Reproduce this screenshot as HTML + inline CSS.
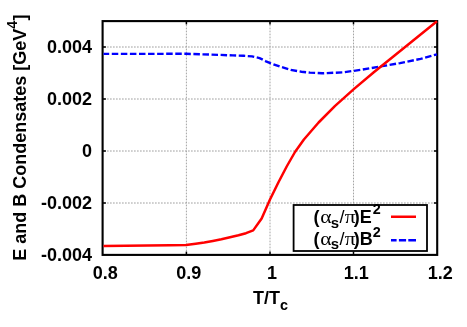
<!DOCTYPE html>
<html><head><meta charset="utf-8">
<style>
html,body{margin:0;padding:0;background:#fff;}
body{width:467px;height:327px;overflow:hidden;}
svg{display:block;will-change:transform;opacity:0.999;}
text{font-family:"Liberation Sans",sans-serif;fill:#000;}
.b{font-weight:bold;}
.sy{font-family:"Liberation Serif",serif;font-weight:normal;}
</style></head><body>
<svg width="467" height="327" viewBox="0 0 467 327">
<rect width="467" height="327" fill="#fff"/>
<!-- grid -->
<g stroke="#a0a0a0" stroke-width="1" stroke-dasharray="1.7 1.3" fill="none">
<line x1="104" y1="47" x2="436" y2="47"/>
<line x1="104" y1="99" x2="436" y2="99"/>
<line x1="104" y1="151" x2="436" y2="151"/>
<line x1="104" y1="203" x2="436" y2="203"/>
</g>
<g stroke="#a4a4a4" stroke-width="1" stroke-dasharray="1.7 1.3" stroke-dashoffset="0.4" fill="none">
<line x1="186.4" y1="22" x2="186.4" y2="254"/>
<line x1="270" y1="22" x2="270" y2="254"/>
<line x1="353.5" y1="22" x2="353.5" y2="254"/>
</g>
<!-- ticks -->
<g stroke="#000" stroke-width="1.5" fill="none">
<line x1="102.6" y1="47" x2="105.9" y2="47"/><line x1="433.9" y1="47" x2="437.2" y2="47"/>
<line x1="102.6" y1="99" x2="105.9" y2="99"/><line x1="433.9" y1="99" x2="437.2" y2="99"/>
<line x1="102.6" y1="151" x2="105.9" y2="151"/><line x1="433.9" y1="151" x2="437.2" y2="151"/>
<line x1="102.6" y1="203" x2="105.9" y2="203"/><line x1="433.9" y1="203" x2="437.2" y2="203"/>
<line x1="186.4" y1="251.6" x2="186.4" y2="254.9"/><line x1="186.4" y1="21.1" x2="186.4" y2="24.4"/>
<line x1="270" y1="251.6" x2="270" y2="254.9"/><line x1="270" y1="21.1" x2="270" y2="24.4"/>
<line x1="353.5" y1="251.6" x2="353.5" y2="254.9"/><line x1="353.5" y1="21.1" x2="353.5" y2="24.4"/>
</g>
<!-- frame -->
<rect x="102.6" y="21.1" width="334.6" height="233.8" fill="none" stroke="#000" stroke-width="2.1"/>
<!-- curves -->
<path id="blue" fill="none" stroke="#0000ff" stroke-width="2.4" stroke-dasharray="6.5 2.57" stroke-dashoffset="0.8" d="M103.5,53.90 L186,53.80 L220,54.90 L232.8,55.40 L243.6,55.80 L252.1,56.40 L259.6,58.10 L266,61.30 L270.3,63.20 L280,66.60 L290.7,69.90 L301.4,71.70 L310,72.60 L322,73.30 L342.7,72.40 L361,69.80 L379,66.70 L400,63.10 L420.6,58.90 L437,54.30"/>
<path id="red" fill="none" stroke="#ff0000" stroke-width="2.5" stroke-linejoin="round" d="M103.5,245.9 L170,245.3 L186,245 L195.7,243.7 L204.3,242.4 L212.8,240.9 L221.4,239.2 L230,237.3 L238.5,235.3 L246,233.2 L253.2,230.4 L261.65,218.5 L270,199.5 L278.35,182.5 L286.7,166.5 L295,152 L303.9,139.5 L318.6,122.5 L335.1,105.9 L353.5,89.4 L373.8,72.3 L394.6,55.5 L407.6,45.1 L437,21.2"/>
<!-- legend -->
<rect x="293.6" y="205" width="133.4" height="46" fill="#fff" stroke="#000" stroke-width="1.8"/>
<g font-size="18">
<text y="223" class="b"><tspan x="313.6">(</tspan><tspan x="330.7" dy="4.5" font-size="15">s</tspan><tspan x="339.5" dy="-4.5" font-weight="normal">/</tspan><tspan x="353.7">)</tspan><tspan x="359.8">E</tspan><tspan x="372.7" dy="-8.9" font-size="14.4">2</tspan></text>
<text class="sy" transform="translate(320.2,223) scale(1.2,1)">α</text>
<text class="sy" transform="translate(344.8,223) scale(1.2,1)">π</text>
<text y="244.6" class="b"><tspan x="313.6">(</tspan><tspan x="330.7" dy="4.5" font-size="15">s</tspan><tspan x="339.5" dy="-4.5" font-weight="normal">/</tspan><tspan x="353.7">)</tspan><tspan x="359.8">B</tspan><tspan x="372.7" dy="-7.5" font-size="14.4">2</tspan></text>
<text class="sy" transform="translate(320.2,244.6) scale(1.2,1)">α</text>
<text class="sy" transform="translate(344.8,244.6) scale(1.2,1)">π</text>
</g>
<line x1="391" y1="216.75" x2="416" y2="216.75" stroke="#ff0000" stroke-width="2.5"/>
<line x1="391" y1="240.2" x2="416" y2="240.2" stroke="#0000ff" stroke-width="2.4" stroke-dasharray="5.6 2.3 7.2 2.2 7.7 2.2"/>
<!-- labels -->
<g class="b" font-size="18" text-anchor="end">
<text x="92" y="52.7">0.004</text>
<text x="92" y="104.7">0.002</text>
<text x="92" y="156.7">0</text>
<text x="92" y="208.7">-0.002</text>
<text x="92" y="260.7">-0.004</text>
</g>
<g class="b" font-size="18" text-anchor="middle">
<text x="105.3" y="279">0.8</text>
<text x="188.8" y="279">0.9</text>
<text x="272" y="279">1</text>
<text x="356.3" y="279">1.1</text>
<text x="440.3" y="279">1.2</text>
</g>
<text class="b" font-size="18" x="253" y="304.2">T/T<tspan font-size="14.4" dy="5.6">c</tspan></text>
<text class="b" font-size="18" transform="translate(26,260.7) rotate(-90)">E and B Condensates [GeV<tspan font-size="14.4" dy="-8.7">4</tspan><tspan dy="8.7">]</tspan></text>
</svg>
</body></html>
